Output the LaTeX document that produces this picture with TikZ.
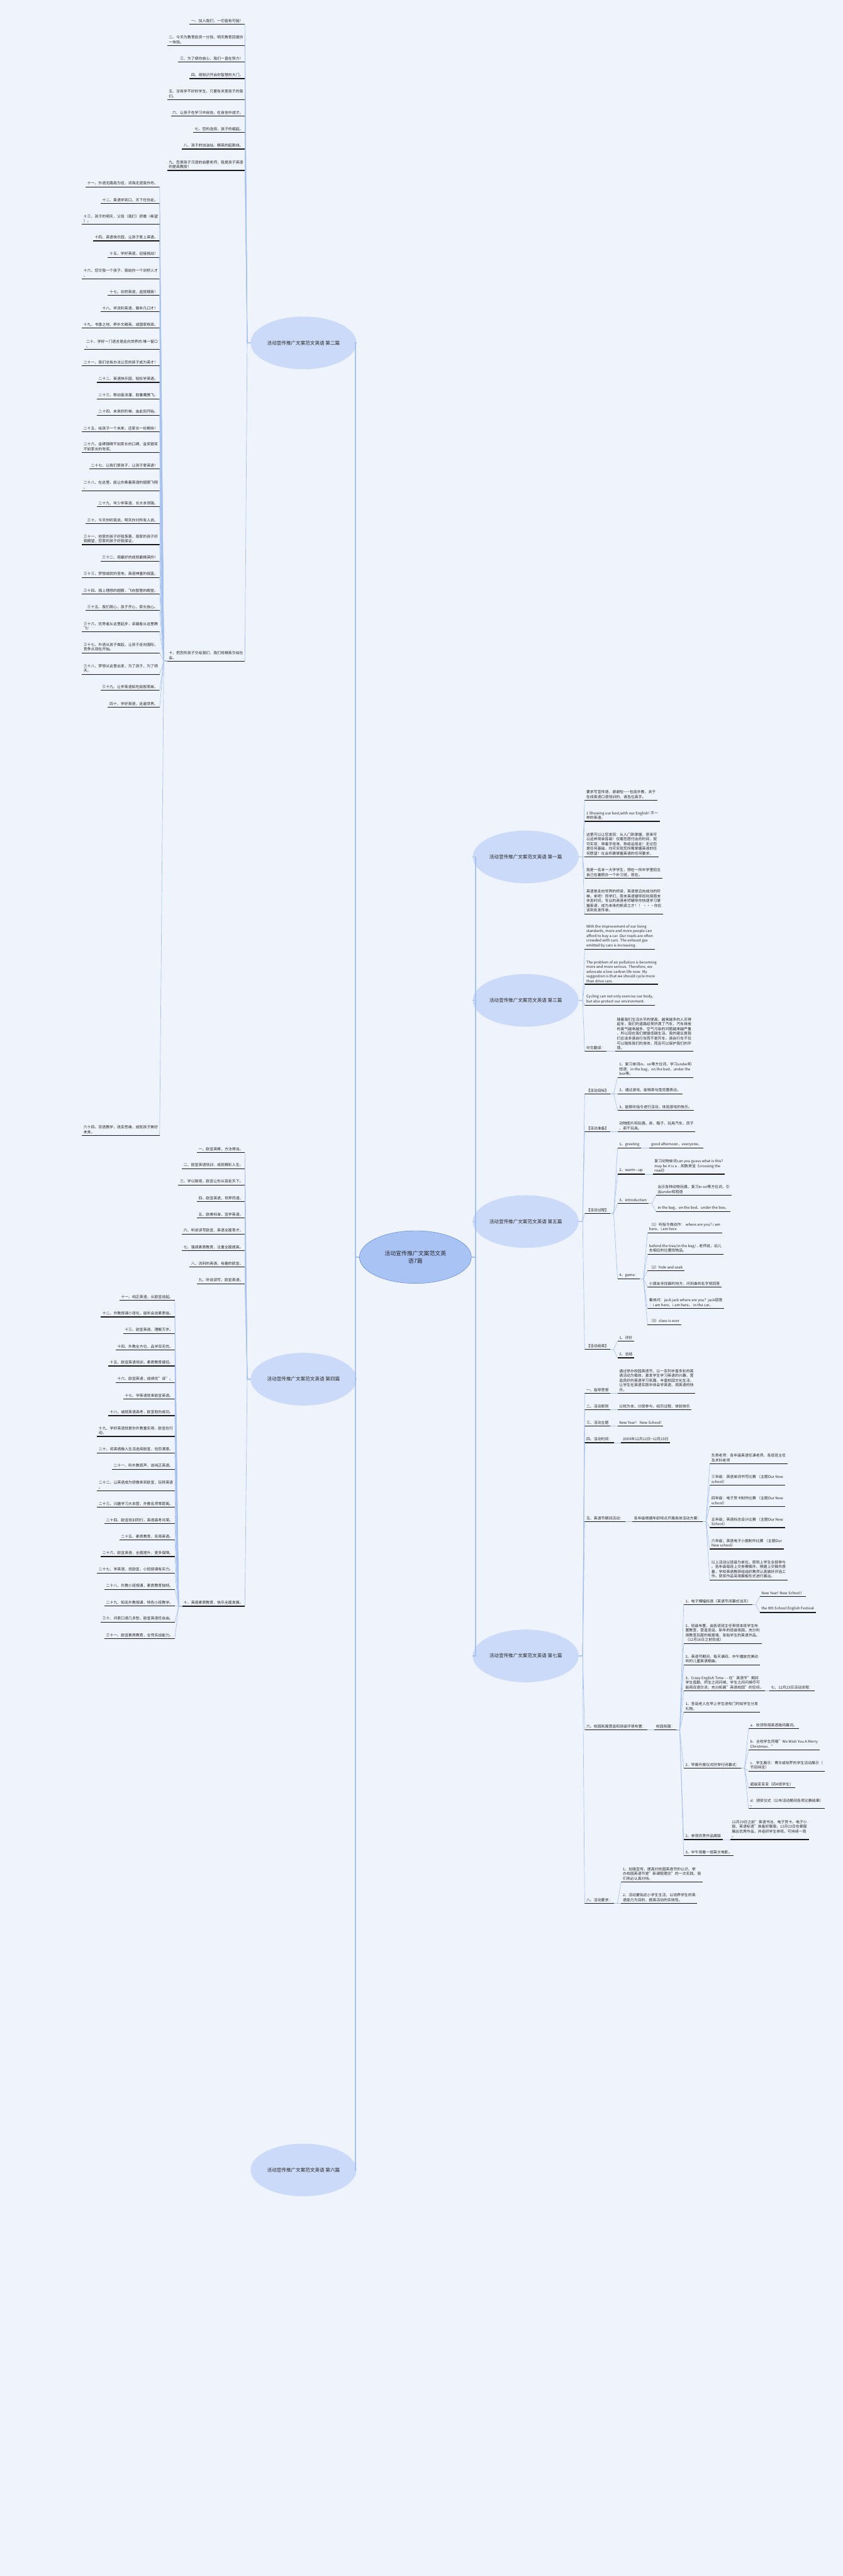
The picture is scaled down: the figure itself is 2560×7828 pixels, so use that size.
\documentclass[tikz,border=0pt]{standalone}
\usepackage{fontspec}
\setmainfont{Noto Sans CJK SC}
\usepackage{tikz}
\usetikzlibrary{positioning,shapes.geometric}
\definecolor{bgblue}{HTML}{EFF4FC}
\definecolor{topicblue}{HTML}{CBDAF9}
\definecolor{rootblue}{HTML}{A9C3F5}
\definecolor{rootedge}{HTML}{4A78D0}
\definecolor{linkblue}{HTML}{A8C2F0}
\newcommand{\leaffont}{\fontsize{11.3}{14.4}\selectfont}

\begin{document}
\begin{tikzpicture}[x=1pt, y=-1pt,
  every node/.style={font=\leaffont, text=black!85},
  root/.style={ellipse, draw=rootedge, line width=0.8, fill=rootblue, minimum width=340, minimum height=160, align=center, font=\fontsize{17}{22}\selectfont},
  topic/.style={ellipse, fill=topicblue, minimum width=312, minimum height=160, font=\fontsize{14.5}{18}\selectfont},
  uline/.style={line width=2.2, black!90},
  leaf/.style={align=left, inner xsep=5, inner ysep=5, append after command={(\tikzlastnode.south west) edge[uline] (\tikzlastnode.south east)}},
  leafR/.style={leaf, anchor=south west},
  leafL/.style={leaf, anchor=south east},
  trunk/.style={draw=linkblue, line width=3},
  twig/.style={draw=linkblue, line width=1.3}]
   % Background (always first)
   \useasboundingbox (0,0) rectangle (2560,7828);
   \fill[bgblue] (0,0) rectangle (2560,7828);

   % Root and topics
   \node[root] (root) at (1262,3820) {活动宣传推广文案范文英\\语7篇};
   \node[topic] (b1) at (1597,2604) {活动宣传推广文案范文英语 第一篇};
   \node[topic] (b2) at (922,1042) {活动宣传推广文案范文英语 第二篇};
   \node[topic] (b3) at (1597,3040) {活动宣传推广文案范文英语 第三篇};
   \node[topic] (b4) at (922,4191) {活动宣传推广文案范文英语 第四篇};
   \node[topic] (b5) at (1597,3712) {活动宣传推广文案范文英语 第五篇};
   \node[topic] (b6) at (922,6594) {活动宣传推广文案范文英语 第六篇};
   \node[topic] (b7) at (1597,5032) {活动宣传推广文案范文英语 第七篇};
   \foreach \t in {b1,b3,b5,b7}
     \draw[trunk] (root.east) -- ++(12,0) |- (\t.west);
   \foreach \t in {b2,b4,b6}
     \draw[trunk] (root.west) -- ++(-12,0) |- (\t.east);

   % Topic 2 (left side)
   \node[leafL] (b2a) at (744,74) {一、加入我们，一切皆有可能！};
   \node[leafL] (b2b) at (744,138) {二、今天为教育投资一分钱，明天教育回报你\\一块钱。};
   \node[leafL] (b2c) at (744,189) {三、为了使你放心，我们一直在努力！};
   \node[leafL] (b2d) at (744,239) {四、用知识开启你智慧的大门。};
   \node[leafL] (b2e) at (744,303) {五、没有学不好的学生，只要有关爱孩子的我\\们。};
   \node[leafL] (b2f) at (744,353) {六、让孩子在学习中自信，在自信中成才。};
   \node[leafL] (b2g) at (744,403) {七、您的选择，孩子的崛起。};
   \node[leafL] (b2h) at (744,453) {八、孩子的加油站，精英的起跑线。};
   \node[leafL] (b2i) at (744,518) {九、您是孩子汉语的启蒙老师，我是孩子英语\\的提高教授！};
   \node[leafL] (b2j) at (744,2009) {十、把您的孩子交给我们，我们将精英交给社\\会。};
   \foreach \c in {b2a,b2b,b2c,b2d,b2e,b2f,b2g,b2h,b2i,b2j}
     \draw[twig] (b2.west) -- ++(-10,0) -- (\c.south east);
   \node[leafL] (t11) at (485,568) {十一、外语无路我为径，词海无涯我作舟。};
   \node[leafL] (t12) at (485,618) {十二、英语学到口，天下任你走。};
   \node[leafL] (t13) at (485,682) {十三、孩子的明天，父母（我们）骄傲（希望\\）。};
   \node[leafL] (t14) at (485,732) {十四、英语快乐园，让孩子爱上英语。};
   \node[leafL] (t15) at (485,782) {十五、学好英语，迎接挑战！};
   \node[leafL] (t16) at (485,847) {十六、您交我一个孩子，我给你一个剑桥人才\\。};
   \node[leafL] (t17) at (485,897) {十七、剑桥英语，造就精英！};
   \node[leafL] (t18) at (485,947) {十八、学流利英语，展非凡口才！};
   \node[leafL] (t19) at (485,997) {十九、书香之地，养外文精英，成国家栋梁。};
   \node[leafL] (t20) at (485,1062) {二十、学好一门语言是走向世界的.唯一窗口\\。};
   \node[leafL] (t21) at (485,1112) {二十一、我们总有办法让您的孩子成为英才！};
   \node[leafL] (t22) at (485,1162) {二十二、英语快乐园，轻松学英语。};
   \node[leafL] (t23) at (485,1212) {二十三、帮幼苗浇灌，助雏鹰腾飞。};
   \node[leafL] (t24) at (485,1262) {二十四、未来的阶梯，由此刻开始。};
   \node[leafL] (t25) at (485,1312) {二十五、给孩子一个未来，还家长一份期待！};
   \node[leafL] (t26) at (485,1375) {二十六、金碑银碑不如家长的口碑，金奖银奖\\不如家长的夸奖。};
   \node[leafL] (t27) at (485,1425) {二十七、让我们爱孩子，让孩子爱英语！};
   \node[leafL] (t28) at (485,1491) {二十八、在这里，能让你乘着英语的翅膀飞翔\\。};
   \node[leafL] (t29) at (485,1540) {二十九、年少学英语，长大本领强。};
   \node[leafL] (t30) at (485,1591) {三十、今天你听我说，明天你对所有人说。};
   \node[leafL] (t31) at (485,1655) {三十一、他家的孩子好我羡慕，我家的孩子好\\我期望，您家的孩子好我保证。};
   \node[leafL] (t32) at (485,1705) {三十二、用最好的成就最精英的！};
   \node[leafL] (t33) at (485,1755) {三十三、梦想成就的圣地，英语神童的摇篮。};
   \node[leafL] (t34) at (485,1805) {三十四、插上理想的翅膀，飞向智慧的殿堂。};
   \node[leafL] (t35) at (485,1855) {三十五、我们用心，孩子开心，家长放心。};
   \node[leafL] (t36) at (485,1920) {三十六、优秀者从这里起步，卓越者从这里腾\\飞！};
   \node[leafL] (t37) at (485,1984) {三十七、外语从孩子做起，让孩子走向国际，\\竞争从现在开始。};
   \node[leafL] (t38) at (485,2049) {三十八、梦想从这里出发，为了孩子，为了明\\天。};
   \node[leafL] (t39) at (485,2098) {三十九、让学英语如吃饭般简单。};
   \node[leafL] (t40) at (485,2149) {四十、学好英语，走遍世界。};
   \node[leafL] (t64) at (485,3450) {六十四、双语教学，改变思维，成就孩子美好\\未来。};
   \foreach \c in {t11,t12,t13,t14,t15,t16,t17,t18,t19,t20,t21,t22,t23,t24,t25,t26,t27,t28,t29,t30,t31,t32,t33,t34,t35,t36,t37,t38,t39,t40,t64}
     \draw[twig] (b2j.south west) -- ++(-10,0) -- (\c.south east);

   % Topic 4 (left side)
   \node[leafL] (b4a) at (744,3502) {一、欧宜英棒，方法得当。};
   \node[leafL] (b4b) at (744,3551) {二、欧宜英语培训，成就精彩人生。};
   \node[leafL] (b4c) at (744,3601) {三、学以致用，欧宜让你从容走天下。};
   \node[leafL] (b4d) at (744,3651) {四、欧宜英语，世界同语。};
   \node[leafL] (b4e) at (744,3701) {五、欧美标准，宜学英语。};
   \node[leafL] (b4f) at (744,3750) {六、听说读写欧宜，英语全面育才。};
   \node[leafL] (b4g) at (744,3800) {七、强调素质教育，注重全面提高。};
   \node[leafL] (b4h) at (744,3850) {八、流利的英语，有趣的欧宜。};
   \node[leafL] (b4i) at (744,3901) {九、听说读写，欧宜英语。};
   \node[leafL] (b4j) at (744,4881) {十、英语素质教育，快乐全面发展。};
   \foreach \c in {b4a,b4b,b4c,b4d,b4e,b4f,b4g,b4h,b4i,b4j}
     \draw[twig] (b4.west) -- ++(-10,0) -- (\c.south east);
   \node[leafL] (u11) at (531,3952) {十一、纯正英语，从欧宜说起。};
   \node[leafL] (u12) at (531,4002) {十二、外教授课小班化，能听会说素质佳。};
   \node[leafL] (u13) at (531,4052) {十三、欧宜英语，理解万岁。};
   \node[leafL] (u14) at (531,4102) {十四、外教全方位，品学双无忧。};
   \node[leafL] (u15) at (531,4151) {十五、欧宜英语培训，素质教育捷径。};
   \node[leafL] (u16) at (531,4201) {十六、欧宜英语，成绩优"译"。};
   \node[leafL] (u17) at (531,4251) {十七、学英语就来欧宜英语。};
   \node[leafL] (u18) at (531,4302) {十八、诚就英语高考，欧宜助你成功。};
   \node[leafL] (u19) at (531,4365) {十九、学好英语就是你外教重实用，欧宜在行\\动。};
   \node[leafL] (u20) at (531,4415) {二十、将英语融入生活选择欧宜，包您满意。};
   \node[leafL] (u21) at (531,4465) {二十一、听外教原声，说纯正英语。};
   \node[leafL] (u22) at (531,4530) {二十二、让英语成为骄傲来到欧宜，玩转英语\\。};
   \node[leafL] (u23) at (531,4580) {二十三、兴趣学习大本营，外教名师零距离。};
   \node[leafL] (u24) at (531,4630) {二十四、欧宜培训同行，英语高考共荣。};
   \node[leafL] (u25) at (531,4680) {二十五、素质教育，实用英语。};
   \node[leafL] (u26) at (531,4730) {二十六、欧宜英语，全面提升，更多保障。};
   \node[leafL] (u27) at (531,4780) {二十七、学英语，找欧宜，小班授课有实力。};
   \node[leafL] (u28) at (531,4830) {二十八、外教小班授课，素质教育独特。};
   \node[leafL] (u29) at (531,4880) {二十九、知名外教授课，特色小班教学。};
   \node[leafL] (u30) at (531,4929) {三十、问君口语几多愁，欧宜英语任自由。};
   \node[leafL] (u31) at (531,4980) {三十一、欧宜素质教育，全凭实战能力。};
   \foreach \c in {u11,u12,u13,u14,u15,u16,u17,u18,u19,u20,u21,u22,u23,u24,u25,u26,u27,u28,u29,u30,u31}
     \draw[twig] (b4j.south west) -- ++(-10,0) -- (\c.south east);

   % Topic 1
   \node[leafR] (b1a) at (1776,2432) {要求写宣传语，谢谢啦\textasciitilde\textasciitilde\textasciitilde 包括外教，关于\\在线英语口语培训的，请各位高手。};
   \node[leafR] (b1b) at (1776,2496) {1 Showing our best,with our English! 不一\\样的英语。};
   \node[leafR] (b1c) at (1776,2604) {这里可以让您发现：从入门到掌握，原来可\\以这样简单容易！仅需您愿付出的时间，就\\可实现：带着字母来、熟练运用走！无论您\\是任何基础，均可实现您所需掌握英语的任\\何愿望！社会所需掌握英语的任何要求。};
   \node[leafR] (b1d) at (1776,2669) {我是一名本一大学学生，想在一所中学里招生\\自己在暑假办一个补习班，现在。};
   \node[leafR] (b1e) at (1776,2777) {英语是走向世界的桥梁，英语是迈向成功的阶\\梯，来吧！同学们，周末英语辅导班利用周末\\休息时间，专业的英语老师辅导你快速学习掌\\握英语，成为未来的栋梁之才！！ •••你应\\该到处发传单。};
   \foreach \c in {b1a,b1b,b1c,b1d,b1e}
     \draw[twig] (b1.east) -- ++(12,0) -- (\c.south west);

   % Topic 3
   \node[leafR] (b3a) at (1776,2885) {With the improvement of our living\\standards, more and more people can\\afford to buy a car. Our roads are often\\crowded with cars. The exhaust gas\\emitted by cars is increasing.};
   \node[leafR] (b3b) at (1776,2991) {The problem of air pollution is becoming\\more and more serious. Therefore, we\\advocate a low-carbon life now. My\\suggestion is that we should cycle more\\than drive cars.};
   \node[leafR] (b3c) at (1776,3055) {Cycling can not only exercise our body,\\but also protect our environment.};
   \node[leafR] (b3d) at (1776,3195) {中文翻译：};
   \node[leafR] (b3d1) at (1869,3195) {随着我们生活水平的提高，越来越多的人买得\\起车，我们的道路经常挤满了汽车，汽车排放\\的废气越来越多，空气污染的问题越来越严重\\，所以现在我们提倡低碳生活。我的建议是我\\们应该多骑自行车而不是开车。骑自行车不仅\\可以锻炼我们的身体，而且可以保护我们的环\\境。};
   \foreach \c in {b3a,b3b,b3c,b3d}
     \draw[twig] (b3.east) -- ++(12,0) -- (\c.south west);
   \draw[twig] (b3d.south east) -- (b3d1.south west);

   % Topic 5
   \node[leafR] (b5a) at (1776,3324) {【活动目标】};
   \node[leafR] (b5a1) at (1876,3274) {1、复习单词in、on等方位词，学习under和\\短语：in the bag，on the bed，under the\\ box等。};
   \node[leafR] (b5a2) at (1876,3324) {2、通过游戏，能够用句型完整表达。};
   \node[leafR] (b5a3) at (1876,3374) {3、能够听指令进行活动，体验游戏的快乐。};
   \node[leafR] (b5b) at (1776,3439) {【活动准备】};
   \node[leafR] (b5b1) at (1876,3439) {动物图片和玩偶，床、箱子、玩具汽车、房子\\、若干玩具。};
   \node[leafR] (b5c) at (1776,3687) {【活动过程】};
   \node[leafR] (b5c1) at (1876,3489) {1、greeting};
   \node[leafR] (b5c1a) at (1973,3489) {good afternoon，everyone。};
   \node[leafR] (b5c2) at (1876,3568) {2、warm—up};
   \node[leafR] (b5c2a) at (1983,3568) {复习动物单词can you guess what is this?\\may be it is a ...和数来宝《crossing the\\road》};
   \node[leafR] (b5c3) at (1876,3657) {3、introduction};
   \node[leafR] (b5c3a) at (1993,3632) {出示各种动物玩偶，复习in on等方位词，引\\出under和短语};
   \node[leafR] (b5c3b) at (1993,3682) {in the bag、on the bed、under the box。};
   \node[leafR] (b5c4) at (1876,3886) {4、game：};
   \node[leafR] (b5g1) at (1967,3746) {（1）听指令做动作： where are you? i am\\here，i am here};
   \node[leafR] (b5g2) at (1967,3811) {behind the tree/in the bag/...老师说，幼儿\\去相应的位置找物品。};
   \node[leafR] (b5g3) at (1967,3862) {（2）hide and seak};
   \node[leafR] (b5g4) at (1967,3911) {小朋友寻找躲的地方，问到谁的名字就回答};
   \node[leafR] (b5g5) at (1967,3976) {集体问：jack jack where are you？jack回答\\：i am here，i am here。 in the car。};
   \node[leafR] (b5g6) at (1967,4025) {（3）class is over};
   \node[leafR] (b5d) at (1776,4101) {【活动结束】};
   \node[leafR] (b5d1) at (1876,4076) {1、评价};
   \node[leafR] (b5d2) at (1876,4126) {2、总结};
   \foreach \c in {b5a,b5b,b5c,b5d}
     \draw[twig] (b5.east) -- ++(12,0) -- (\c.south west);
   \foreach \p/\c in {b5a/b5a1,b5a/b5a2,b5a/b5a3,b5b/b5b1,b5c/b5c1,b5c/b5c2,b5c/b5c3,b5c/b5c4,b5d/b5d1,b5d/b5d2,b5c3/b5c3a,b5c3/b5c3b,b5c4/b5g1,b5c4/b5g2,b5c4/b5g3,b5c4/b5g4,b5c4/b5g5,b5c4/b5g6}
     \draw[twig] (\p.south east) -- ++(10,0) -- (\c.south west);
   \draw[twig] (b5c1.south east) -- (b5c1a.south west);
   \draw[twig] (b5c2.south east) -- (b5c2a.south west);

   % Topic 7
   \node[leafR] (b7a) at (1776,4234) {一、指导思想};
   \node[leafR] (b7a1) at (1876,4234) {通过举办校园英语节，以一系列丰富多彩的英\\语活动为载体，激发学生学习英语的兴趣，营\\造良好的英语学习氛围，丰富校园文化生活，\\让学生在英语实践中体会学英语、用英语的快\\乐。};
   \node[leafR] (b7b) at (1776,4284) {二、活动原则};
   \node[leafR] (b7b1) at (1876,4284) {以校为本、分层参与、经历过程、体验快乐};
   \node[leafR] (b7c) at (1776,4334) {三、活动主题};
   \node[leafR] (b7c1) at (1876,4334) {New Year！ New School!};
   \node[leafR] (b7d) at (1776,4384) {四、活动时间：};
   \node[leafR] (b7d1) at (1887,4384) {20XX年12月12日\textasciitilde 12月23日};
   \node[leafR] (b7e) at (1776,4624) {五、英语节期间活动：};
   \node[leafR] (b7e1) at (1921,4624) {各年级根据年龄特点开展具体活动方案：};
   \node[leafR] (b7e1a) at (2156,4448) {负责老师：各年级英语任课老师、各班班主任\\及术科老师};
   \node[leafR] (b7e1b) at (2156,4513) {三年级：英语单词书写比赛 （主题Our New\\school）};
   \node[leafR] (b7e1c) at (2156,4578) {四年级：电子贺卡制作比赛 （主题Our New\\school）};
   \node[leafR] (b7e1d) at (2156,4642) {五年级；英语标志设计比赛 （主题Our New\\School）};
   \node[leafR] (b7e1e) at (2156,4707) {六年级；英语电子小报制作比赛 （主题Our\\New school）};
   \node[leafR] (b7e1f) at (2156,4801) {以上活动以班级为单位，原则上学生全部参与\\。各年级每班上交参赛稿件。根据上交稿件质\\量，学校英语教研组组织教师认真做好评选工\\作。获奖作品采用展板形式进行展出。};
   \node[leafR] (b7f) at (1776,5257) {六、校园氛围营造和班级环境布置：};
   \node[leafR] (b7f1) at (1988,5257) {校园氛围：};
   \node[leafR] (b7g1) at (2077,4876) {1、电子横幅标语（英语节闭幕式当天）};
   \node[leafR] (b7g1a) at (2308,4851) {New Year! New School！};
   \node[leafR] (b7g1b) at (2308,4900) {the 8th School English Festival};
   \node[leafR] (b7g2) at (2077,4994) {2、班级布置，由各班班主任带领本班学生布\\置教室，营造圣诞、新年的班级氛围，充分利\\用教室后面的板报墙，张贴学生的英语作品。\\（12月16日之前完成）};
   \node[leafR] (b7g3) at (2077,5059) {2、英语节期间，每天课间、中午播放优美动\\听的儿童英语歌曲。};
   \node[leafR] (b7g4) at (2077,5138) {3、Crazy English Time - - 在"英语节"期间\\学生值勤、师生之间问候、学生之间问候尽可\\能用双语交流，充分拓展"英语校园"的空间。};
   \node[leafR] (b7g4a) at (2337,5138) {七、12月23日活动流程：};
   \node[leafR] (b7g5) at (2077,5203) {1、圣诞老人在早上学生进校门时给学生分发\\礼物。};
   \node[leafR] (b7g6) at (2077,5373) {2、早晨升旗仪式时举行闭幕式：};
   \node[leafR] (b7g6a) at (2274,5253) {a．校领导用英语致闭幕词。};
   \node[leafR] (b7g6b) at (2274,5317) {b．全校学生同唱"We Wish You A Merry\\Christmas．"};
   \node[leafR] (b7g6c) at (2274,5382) {c．学生展示：博文或哈罗的学生活动展示（\\节目待定）};
   \node[leafR] (b7g6d) at (2274,5432) {超级变变变（四4班学生）};
   \node[leafR] (b7g6e) at (2274,5496) {d．颁奖仪式（公布活动期间各项比赛结果）\\。};
   \node[leafR] (b7g7) at (2077,5590) {2、参观优秀作品展版};
   \node[leafR] (b7g7a) at (2218,5590) {12月19日之前"英语书法、电子贺卡、电子小\\报、英语标语"准备好展版。12月23日在橱窗\\展出优秀作品，并组织学生参观，可持续一周\\。};
   \node[leafR] (b7g8) at (2077,5639) {3、中午观看一部英文电影。};
   \node[leafR] (b7h) at (1776,5784) {八、活动要求：};
   \node[leafR] (b7h1) at (1887,5719) {1、加强宣传，提高对校园英语节的认识。举\\办校园英语节是"新课程理念"的一次实践，我\\们务必认真对待。};
   \node[leafR] (b7h2) at (1887,5784) {2、活动要贴近小学生生活，以培养学生的英\\语能力为目的，提高活动的实效性。};
   \foreach \c in {b7a,b7b,b7c,b7d,b7e,b7f,b7h}
     \draw[twig] (b7.east) -- ++(12,0) -- (\c.south west);
   \foreach \p/\c in {b7a/b7a1,b7b/b7b1,b7c/b7c1,b7d/b7d1,b7e/b7e1,b7f/b7f1,b7h/b7h1,b7h/b7h2,b7g6/b7g6a,b7g6/b7g6b,b7g6/b7g6c,b7g6/b7g6d,b7g6/b7g6e,b7g1/b7g1a,b7g1/b7g1b,b7g4/b7g4a,b7g7/b7g7a}
     \draw[twig] (\p.south east) -- ++(10,0) -- (\c.south west);
   \foreach \c in {b7e1a,b7e1b,b7e1c,b7e1d,b7e1e,b7e1f}
     \draw[twig] (b7e1.south east) -- ++(10,0) -- (\c.south west);
   \foreach \c in {b7g1,b7g2,b7g3,b7g4,b7g5,b7g6,b7g7,b7g8}
     \draw[twig] (b7f1.south east) -- ++(10,0) -- (\c.south west);
\end{tikzpicture}
\end{document}
